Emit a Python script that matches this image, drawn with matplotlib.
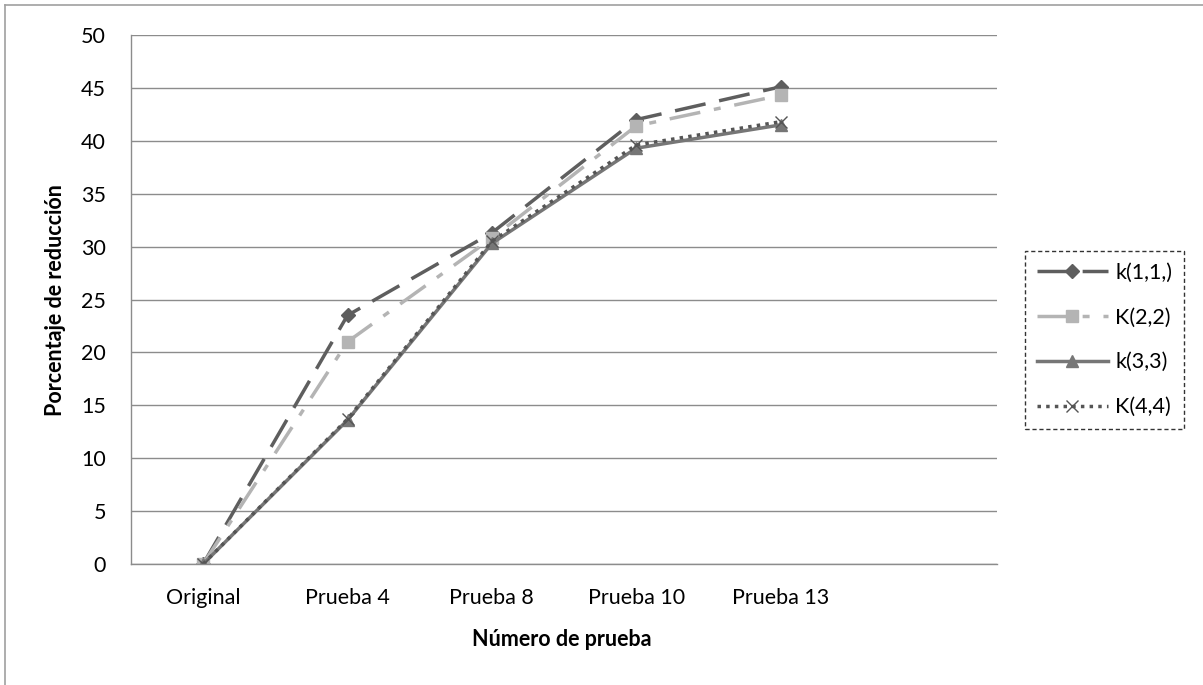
import matplotlib
matplotlib.use("Agg")
import matplotlib.pyplot as plt
from matplotlib.lines import Line2D

categories = ["Original", "Prueba 4", "Prueba 8", "Prueba 10", "Prueba 13"]
k11 = [0, 23.5, 31.3, 42.0, 45.1]
k22 = [0, 21.0, 30.8, 41.4, 44.3]
k33 = [0, 13.6, 30.3, 39.3, 41.5]
k44 = [0, 13.7, 30.5, 39.6, 41.8]
series_names = ["k(1,1,)", "K(2,2)", "k(3,3)", "K(4,4)"]
yticks = [0, 5, 10, 15, 20, 25, 30, 35, 40, 45, 50]

plt.rcParams['font.family'] = ['Lato', 'DejaVu Sans']
FS = 15.5

W, H = 1203, 685
fig = plt.figure(figsize=(W/100, H/100), dpi=100)
ax = fig.add_axes([131/W, 1-564/H, (997-131)/W, (564-35)/H])

x = list(range(len(categories)))
ax.plot(x, k11, color="#5e5e5e", lw=2.5, dashes=(9, 4), marker="D", ms=7, label=series_names[0])
ax.plot(x, k22, color="#b4b4b4", lw=2.5, dashes=(9, 4, 2, 4), marker="s", ms=9, label=series_names[1])
ax.plot(x, k33, color="#767676", lw=2.5, ls="-", marker="^", ms=9, label=series_names[2])
ax.plot(x, k44, color="#555555", lw=2.5, dashes=(1, 1.5), marker="x", ms=8, mew=1, label=series_names[3])

ax.set_xlim(-0.5, 5.5)
ax.set_ylim(0, 50)
ax.set_yticks(yticks)
ax.set_xticks(x)
ax.set_xticklabels(categories)
ax.tick_params(axis="both", length=0, labelsize=FS, colors="black")
ax.tick_params(axis="x", pad=17)
ax.tick_params(axis="y", pad=18)
ax.grid(axis="y", color="#8c8c8c", lw=1)
ax.set_axisbelow(True)
for s in ["top", "right"]:
    ax.spines[s].set_visible(False)
for s in ["left", "bottom"]:
    ax.spines[s].set_color("#8c8c8c")
    ax.spines[s].set_linewidth(1)

fig.text(562/W, 1-640/H, "Número de prueba", fontsize=FS, fontweight="bold",
         ha="center", va="center")
fig.text(56/W, 1-300/H, "Porcentaje de reducción", rotation=90, fontsize=FS,
         fontweight="bold", ha="center", va="center")

leg = ax.legend(loc="upper left", bbox_to_anchor=(1025/W, 1-251/H), bbox_transform=fig.transFigure,
                frameon=True, fancybox=False, fontsize=FS, handlelength=3.3, labelspacing=1.15,
                borderpad=0.55, borderaxespad=0, handletextpad=0.35)
leg.get_frame().set_edgecolor("black")
leg.get_frame().set_linestyle((0, (3, 2)))
leg.get_frame().set_linewidth(1)

fig.add_artist(Line2D([5/W, 5/W], [0, 1-5/H], transform=fig.transFigure, color="#a0a0a0", lw=1.2))
fig.add_artist(Line2D([5/W, 1], [1-5/H, 1-5/H], transform=fig.transFigure, color="#a0a0a0", lw=1.2))

fig.savefig("out.png", dpi=100)
